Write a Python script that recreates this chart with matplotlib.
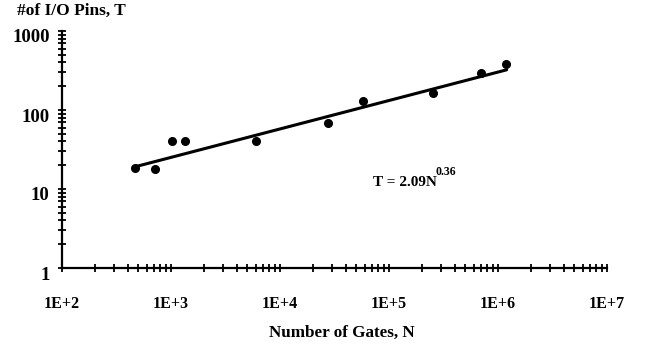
import matplotlib
matplotlib.use("Agg")
import matplotlib.pyplot as plt
import matplotlib.transforms as mtransforms
from matplotlib.ticker import LogLocator, NullFormatter, FixedLocator
import numpy as np


# gates vs. I/O pins
gates = [470, 713, 1020, 1340, 6030, 27500, 57600, 252000, 698000, 1180000]
pins = [18.4, 18.0, 40.5, 40.0, 40.0, 68, 130, 164, 294, 382]

# fit T = A * N^B
FIT_A = 2.09
FIT_B = 0.36
FIT_RANGE = [450, 1200000]

X_TICKS = [1e2, 1e3, 1e4, 1e5, 1e6, 1e7]
X_LABELS = ["1E+2", "1E+3", "1E+4", "1E+5", "1E+6", "1E+7"]
Y_TICKS = [1, 10, 100, 1000]
Y_LABELS = ["1", "10", "100", "1000"]

FONT = "Liberation Serif"

W, H = 646, 350
fig = plt.figure(figsize=(W / 100, H / 100), dpi=100)
ax = fig.add_axes([62 / W, 1 - 268 / H, (607 - 62) / W, (268 - 31) / H])

ax.set_xscale("log")
ax.set_yscale("log")
ax.set_xlim(1e2, 1e7)
ax.set_ylim(1, 1000)

fit_x = np.array(FIT_RANGE, dtype=float)
fit_y = FIT_A * fit_x ** FIT_B
ax.plot(fit_x, fit_y, color="black", lw=2.2, solid_capstyle="round", zorder=3)
ax.plot(gates, pins, "o", color="black", ms=5.5, zorder=4)

for side in ["top", "right"]:
    ax.spines[side].set_visible(False)
for side in ["left", "bottom"]:
    ax.spines[side].set_linewidth(1.6)

ax.xaxis.set_major_locator(FixedLocator(X_TICKS))
ax.yaxis.set_major_locator(FixedLocator(Y_TICKS))
ax.set_xticks(X_TICKS, X_LABELS)
ax.set_yticks(Y_TICKS, Y_LABELS)
ax.xaxis.set_minor_locator(LogLocator(base=10, subs=np.arange(2, 10), numticks=20))
ax.yaxis.set_minor_locator(LogLocator(base=10, subs=np.arange(2, 10), numticks=20))
ax.xaxis.set_minor_formatter(NullFormatter())
ax.yaxis.set_minor_formatter(NullFormatter())

ax.tick_params(which="both", direction="inout", length=6, width=1.3, color="black")
ax.tick_params(axis="x", which="major", pad=17)
ax.tick_params(axis="y", which="major", pad=6)

for lab in ax.get_xticklabels():
    lab.set_fontfamily(FONT)
    lab.set_fontweight("bold")
    lab.set_fontsize(11.5)
for lab in ax.get_yticklabels():
    lab.set_fontfamily(FONT)
    lab.set_fontweight("bold")
    lab.set_fontsize(13.5)

shift = mtransforms.ScaledTranslation(0, -5 / 100, fig.dpi_scale_trans)
for lab in ax.get_yticklabels():
    lab.set_transform(lab.get_transform() + shift)

fig.text(17 / W, 1 - 11 / H, "#of I/O Pins, T", ha="left", va="center",
         fontfamily=FONT, fontweight="bold", fontsize=12.5)
fig.text(342 / W, 1 - 333 / H, "Number of Gates, N", ha="center", va="center",
         fontfamily=FONT, fontweight="bold", fontsize=12.3)
fig.text(373 / W, 1 - 182 / H, "T = 2.09N", ha="left", va="center",
         fontfamily=FONT, fontweight="bold", fontsize=11)
fig.text(436 / W, 1 - 172 / H, "0.36", ha="left", va="center",
         fontfamily=FONT, fontweight="bold", fontsize=8.5)

fig.savefig("out.png", dpi=100)
